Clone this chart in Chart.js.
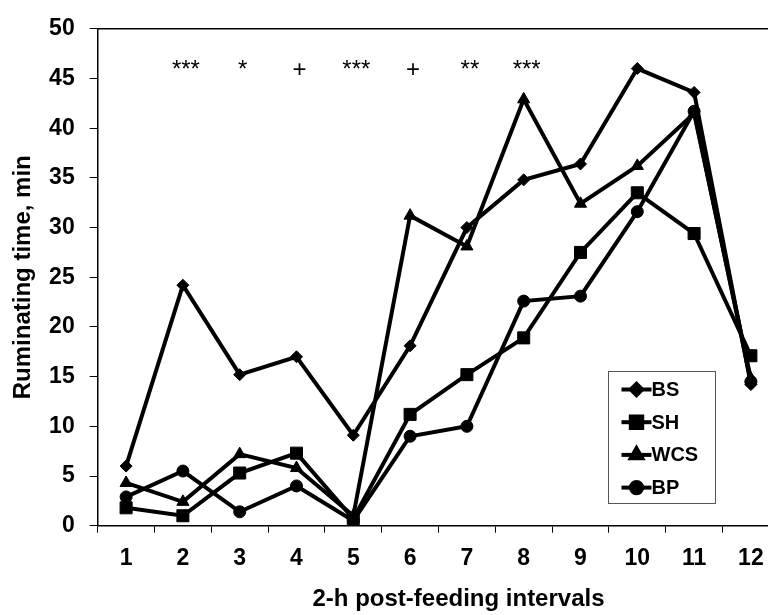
<!DOCTYPE html>
<html>
<head>
<meta charset="utf-8">
<title>Ruminating time</title>
<script src="https://cdn.jsdelivr.net/npm/chart.js@4/dist/chart.umd.min.js"></script>
<style>
  html, body { margin:0; padding:0; background:#fff; overflow:hidden; }
  #wrap { width:800px; height:615px; }
</style>
</head>
<body>
<div id="wrap"><canvas id="rum" width="800" height="615"></canvas></div>
<script>
/* ---------- data ---------- */
const intervals = ['1','2','3','4','5','6','7','8','9','10','11','12'];

const bs  = [6.0, 24.2, 15.2, 17.0, 9.1, 18.1, 30.0, 34.8, 36.4, 46.0, 43.6, 14.2];
const sh  = [1.8,  1.0,  5.3,  7.3, 0.7, 11.2, 15.2, 18.9, 27.5, 33.5, 29.4, 17.1];
const wcs = [4.3,  2.4,  7.2,  5.8, 1.0, 31.2, 28.1, 42.9, 32.4, 36.2, 41.5, 14.8];
const bp  = [2.9,  5.5,  1.4,  4.0, 0.5,  9.0, 10.0, 22.6, 23.1, 31.6, 41.7, 14.5];

// significance marks per interval
const signif = ['', '***', '*', '+', '***', '+', '**', '***', '', '', '', ''];

const FONT = '"Liberation Sans", Arial, Helvetica, sans-serif';

/* ---------- helpers ---------- */
const series = (label, data, pointStyle, pointRadius) => ({
  label, data, pointStyle, pointRadius,
  borderColor:'#000', backgroundColor:'#000',
  borderWidth:4, pointBorderWidth:1, pointHoverRadius:pointRadius,
  tension:0
});

/* top frame line, star labels, x title and the boxed legend */
const extras = {
  id:'extras',
  afterDraw(chart) {
    const { ctx, chartArea:a, scales:{ x, y } } = chart;
    ctx.save();

    // top frame
    ctx.strokeStyle = '#000'; ctx.lineWidth = 1.5;
    ctx.beginPath(); ctx.moveTo(a.left, a.top); ctx.lineTo(a.right + 2, a.top); ctx.stroke();

    // significance marks
    ctx.fillStyle = '#000';
    ctx.font = `24px ${FONT}`;
    ctx.textAlign = 'center'; ctx.textBaseline = 'alphabetic';
    signif.forEach((s, i) => {
      if (s) ctx.fillText(s, x.getPixelForValue(i) + 3, y.getPixelForValue(45.2));
    });

    // x title (sits a bit right of the plot centre)
    ctx.font = `bold 24px ${FONT}`;
    ctx.textBaseline = 'middle';
    ctx.fillText('2-h post-feeding intervals', (a.left + a.right) / 2 + 20, 599);

    // legend box
    const bx = 608.5, by = 371.5, bw = 107, bh = 132;
    ctx.strokeStyle = '#555'; ctx.lineWidth = 1;
    ctx.fillStyle = '#fff';
    ctx.fillRect(bx, by, bw, bh);
    ctx.strokeRect(bx, by, bw, bh);

    ctx.font = `bold 20px ${FONT}`;
    ctx.textAlign = 'left';
    chart.data.datasets.forEach((ds, i) => {
      const ly = by + 18 + i * 32.7;
      ctx.strokeStyle = '#000'; ctx.lineWidth = 4;
      ctx.beginPath(); ctx.moveTo(bx + 13, ly); ctx.lineTo(bx + 43, ly); ctx.stroke();
      ctx.fillStyle = '#000';
      Chart.helpers.drawPoint(ctx,
        { pointStyle:ds.pointStyle, radius:ds.pointRadius * 0.95, rotation:0, borderWidth:1 },
        bx + 28, ly);
      ctx.fillText(ds.label, bx + 43, ly + 1);
    });
    ctx.restore();
  }
};

/* ---------- chart ---------- */
new Chart(document.getElementById('rum'), {
  type:'line',
  data:{
    labels:intervals,
    datasets:[
      series('BS',  bs,  'rectRot',  6),
      series('SH',  sh,  'rect',     8.5),
      series('WCS', wcs, 'triangle', 7),
      series('BP',  bp,  'circle',   6)
    ]
  },
  options:{
    responsive:false, animation:false,
    layout:{ padding:{ left:0, top:23, right:20.7, bottom:0 } },
    plugins:{ legend:{ display:false }, tooltip:{ enabled:false } },
    scales:{
      x:{
        offset:true,
        grid:{ offset:true, drawOnChartArea:false, tickLength:7, color:'#000', lineWidth:1 },
        border:{ color:'#000', width:1.5 },
        ticks:{ color:'#000', padding:12, font:{ family:FONT, size:23, weight:'bold' } },
        afterFit: s => { s.height = 89.3; }
      },
      y:{
        min:0, max:50,
        grid:{ drawOnChartArea:false, tickLength:8, color:'#000', lineWidth:1 },
        border:{ color:'#000', width:1.5 },
        ticks:{ stepSize:5, color:'#000', padding:15, font:{ family:FONT, size:23, weight:'bold' } },
        title:{ display:true, text:'Ruminating time, min', color:'#000',
                padding:{ top:9, bottom:0 }, font:{ family:FONT, size:24, weight:'bold' } },
        afterFit: s => { s.width = 97.7; }
      }
    }
  },
  plugins:[extras]
});
</script>
</body>
</html>
